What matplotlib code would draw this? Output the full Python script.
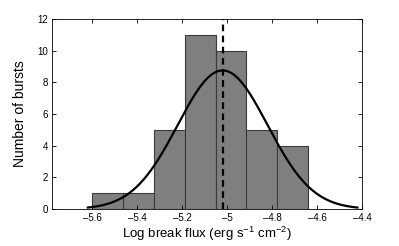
import numpy as np
import matplotlib
matplotlib.use("Agg")
import matplotlib.pyplot as plt

# histogram of log break flux
bin_edges = [-5.60, -5.463, -5.326, -5.189, -5.051, -4.914, -4.777, -4.640]
counts = [1, 1, 5, 11, 10, 5, 4]

# gaussian fit parameters
fit_mean = -5.02
fit_sigma = 0.2
fit_peak = 8.75
fit_range = [-5.62, -4.42]

xticks = [-5.6, -5.4, -5.2, -5.0, -4.8, -4.6, -4.4]
xticklabels = ["-5.6", "-5.4", "-5.2", "-5", "-4.8", "-4.6", "-4.4"]
yticks = [0, 2, 4, 6, 8, 10, 12]

plt.rcParams["font.family"] = ["Liberation Sans", "DejaVu Sans"]
plt.rcParams["mathtext.fontset"] = "custom"
plt.rcParams["mathtext.rm"] = "Liberation Sans"

fig = plt.figure(figsize=(3.99, 2.46), dpi=100)
ax = fig.add_axes([0.130, 0.150, 0.777, 0.773])

widths = np.diff(bin_edges)
ax.bar(bin_edges[:-1], counts, width=widths, align="edge",
       color="#7f7f7f", edgecolor="#3a3a3a", linewidth=0.8)

x = np.linspace(fit_range[0], fit_range[1], 300)
y = fit_peak * np.exp(-(x - fit_mean) ** 2 / (2 * fit_sigma ** 2))
ax.plot(x, y, color="black", linewidth=1.6)

ax.axvline(fit_mean, color="black", linestyle=(0, (3, 2)), linewidth=1.6)

ax.set_xlim(-5.78, -4.4)
ax.set_ylim(0, 12)
ax.set_xticks(xticks)
ax.set_xticklabels([s.replace("-", "\u2013") for s in xticklabels])
ax.set_yticks(yticks)
ax.tick_params(direction="in", top=True, right=True, labelsize=7, length=3, width=0.6, pad=3)
for sp in ax.spines.values():
    sp.set_linewidth(0.6)

ax.set_xlabel(r"Log break flux (erg s$^{-1}$ cm$^{-2}$)", fontsize=9.5, labelpad=1)
ax.set_ylabel("Number of bursts", fontsize=10, labelpad=7)

fig.savefig("out.png", dpi=100)
